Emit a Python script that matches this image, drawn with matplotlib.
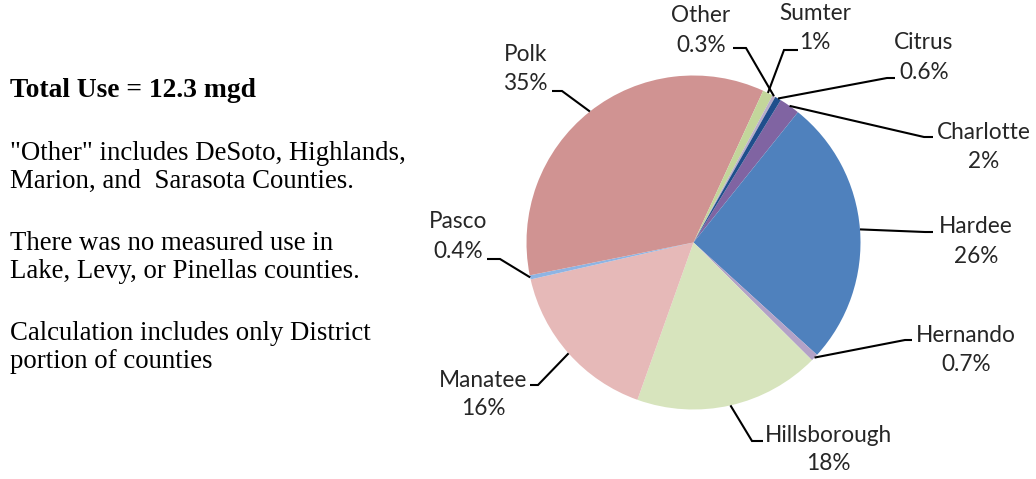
import matplotlib
matplotlib.use("Agg")
import matplotlib.pyplot as plt
import numpy as np

# ---- data ----
counties = ["Charlotte", "Hardee", "Hernando", "Hillsborough", "Manatee",
            "Pasco", "Polk", "Sumter", "Other", "Citrus"]
percent = [2, 26, 0.7, 18, 16, 0.4, 35, 1, 0.3, 0.6]
pct_labels = ["2%", "26%", "0.7%", "18%", "16%", "0.4%", "35%", "1%", "0.3%", "0.6%"]
colors = ["#8064A2", "#4F81BD", "#B3A2C7", "#D7E4BD", "#E6B9B8",
          "#8EB4E3", "#D09392", "#C3D69B", "#B8AECB", "#1F4E8C"]

notes_title = "Total Use = 12.3 mgd"
notes = ['"Other" includes DeSoto, Highlands,', "Marion, and  Sarasota Counties.",
         "There was no measured use in", "Lake, Levy, or Pinellas counties.",
         "Calculation includes only District", "portion of counties"]

W, H = 1036, 479
fig = plt.figure(figsize=(W / 100, H / 100), dpi=100)
ax = fig.add_axes([0, 0, 1, 1])
ax.set_xlim(0, W)
ax.set_ylim(0, H)
ax.set_aspect("equal")
ax.axis("off")

def Y(y):
    return H - y

cx, cy, R = 693.5, Y(242.5), 167
wedges, _ = ax.pie(percent, colors=colors, startangle=58.5, counterclock=False,
                   center=(cx, cy), radius=R, frame=True,
                   wedgeprops=dict(linewidth=0))
ax.set_xlim(0, W)
ax.set_ylim(0, H)
ax.axis("off")

renderer = fig.canvas.get_renderer()

def fit(text, family, weight, target):
    t = fig.text(0, 0, text, family=family, weight=weight, fontsize=14)
    w = t.get_window_extent(renderer).width
    t.remove()
    return 14 * target / w

serif = "Liberation Serif"
sans = "Lato"
fs_serif = fit(notes[4], serif, "normal", 363)
fs_bold = fit(notes_title, serif, "bold", 247)
fs_sans = fit("Hillsborough", sans, "normal", 127)

# left notes
ax.text(10, Y(97), notes_title, family=serif, weight="bold", fontsize=fs_bold,
        ha="left", va="baseline", color="black")
for txt, yb in zip(notes, [160, 188, 250, 278, 340, 368]):
    ax.text(10, Y(yb), txt, family=serif, fontsize=fs_serif,
            ha="left", va="baseline", color="black")

# label layout: name -> (text center x, baseline1, baseline2, line start, elbow)
layout = {
    "Polk": (525.5, 61, 90, (552, 91), (562, 91)),
    "Other": (701, 22, 52, (733, 48), (746, 48)),
    "Sumter": (815, 20, 49, (798, 50), (784, 50)),
    "Citrus": (924, 49, 79, (895, 78), (887, 78)),
    "Charlotte": (984, 139, 168, (933, 137), (924, 137)),
    "Hardee": (976, 233, 263, (933, 232), (925, 232)),
    "Hernando": (966, 342, 371, (912, 340), (905, 340)),
    "Pasco": (458, 228, 258, (487, 259), (500, 259)),
    "Manatee": (483, 387, 415, (530, 385), (538, 385)),
    "Hillsborough": (828, 442, 470, (763, 441), (752, 441)),
}
tc = "#262626"
for w, name, pl in zip(wedges, counties, pct_labels):
    x0, b1, b2, p0, p1 = layout[name]
    ax.text(x0, Y(b1), name, family=sans, fontsize=fs_sans, ha="center",
            va="baseline", color=tc)
    ax.text(x0, Y(b2), pl, family=sans, fontsize=fs_sans, ha="center",
            va="baseline", color=tc)
    mid = np.deg2rad((w.theta1 + w.theta2) / 2)
    ex, ey = cx + R * np.cos(mid), cy + R * np.sin(mid)
    ax.plot([p0[0], p1[0], ex], [Y(p0[1]), Y(p1[1]), ey], color="black",
            lw=1.5, solid_capstyle="butt", solid_joinstyle="miter")

fig.savefig("out.png", dpi=100, facecolor="white")
